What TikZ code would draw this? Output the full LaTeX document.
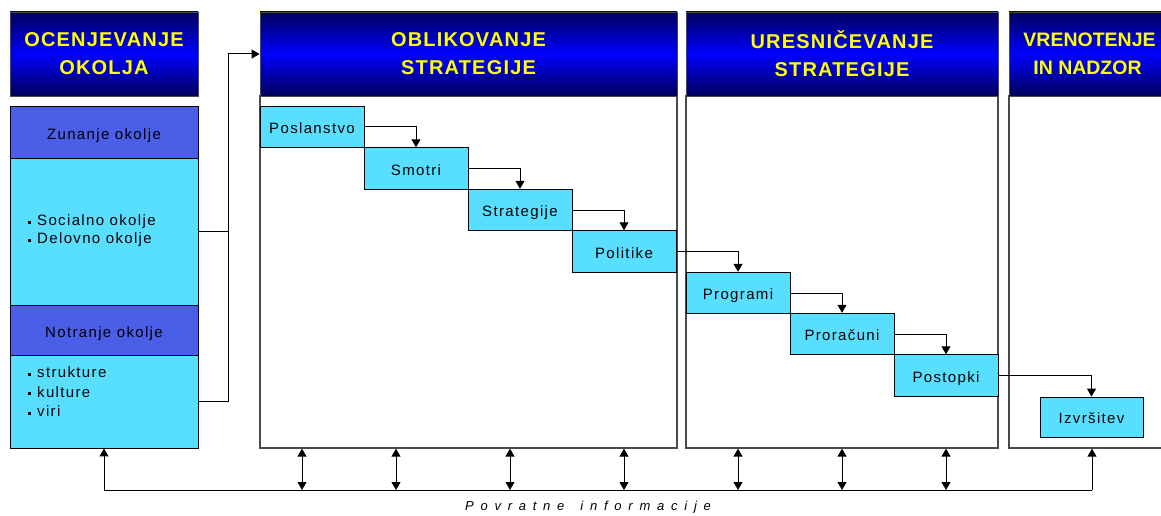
\documentclass[tikz,border=0pt]{standalone}
\usepackage{fontspec}
\setmainfont{Liberation Sans}
\newfontfamily\hdrfont[LetterSpace=6]{Liberation Sans}
\newfontfamily\hdrnarrowfont{Liberation Sans}
\newfontfamily\boxfont[LetterSpace=9]{Liberation Sans}
\newfontfamily\fbfont[LetterSpace=52]{Liberation Sans}
\usetikzlibrary{arrows.meta}
\definecolor{navy}{HTML}{00005A}
\definecolor{hdrblue}{HTML}{0000FF}
\definecolor{hdryellow}{HTML}{FFFF00}
\definecolor{royal}{HTML}{4A5EE8}
\definecolor{cyanbox}{HTML}{58DFFF}
\definecolor{framegray}{HTML}{4A4A4A}
\newcommand\sqb{\rule[0.28ex]{3pt}{3pt}\hspace{6pt}}
\begin{document}
\begin{tikzpicture}[x=1pt,y=-1pt,
  hdr/.style={draw=framegray, line width=0.8pt, top color=navy, bottom color=navy,
    middle color=hdrblue, minimum height=84pt, inner sep=0pt, align=center,
    text=hdryellow, font=\hdrfont\bfseries\fontsize{20}{28}\selectfont},
  panel/.style={draw=framegray, line width=1.3pt, fill=white, minimum height=352pt, inner sep=0pt},
  band/.style={draw=black, line width=0.9pt, fill=royal, minimum width=188pt, inner sep=0pt,
    text height=14.7pt, text depth=0pt, font=\boxfont\fontsize{15}{18}\selectfont},
  bandbody/.style={draw=black, line width=0.9pt, fill=cyanbox, minimum width=188pt, inner sep=0pt},
  stepbox/.style={draw=black, line width=0.9pt, fill=cyanbox, minimum width=104pt,
    minimum height=41.5pt, inner sep=0pt, text height=13.7pt, text depth=0pt,
    font=\boxfont\fontsize{15}{18}\selectfont},
  itemtext/.style={anchor=west, align=left, inner sep=0pt, font=\boxfont\fontsize{15}{18}\selectfont},
  link/.style={draw=black, line width=1pt},
  flow/.style={link, -{Triangle[width=9pt,length=8pt]}},
  biflow/.style={link, {Triangle[width=9pt,length=8pt]}-{Triangle[width=9pt,length=8pt]}}
]
\useasboundingbox (0,0) rectangle (1161,516);

% column panels
\node[panel, minimum width=417pt] (pan2) at (468.5,272) {};
\node[panel, minimum width=312pt] (pan3) at (842,272) {};
\node[panel, minimum width=157pt] (pan4) at (1087.5,272) {};

% column headers
\node[hdr, minimum width=188pt] (hdr1) at (104,54) {OCENJEVANJE\\OKOLJA};
\node[hdr, minimum width=417pt] (hdr2) at (468.5,54) {OBLIKOVANJE\\STRATEGIJE};
\node[hdr, minimum width=312pt] (hdr3) at (842,54) {URESNIČEVANJE\\STRATEGIJE};
\node[hdr, minimum width=157pt, font=\hdrnarrowfont\bfseries\fontsize{19.5}{28}\selectfont]
  (hdr4) at (1087.5,54) {\hspace{4pt}VRENOTENJE\\IN NADZOR};

% environment column
\node[band, minimum height=52pt] (zun) at (104,132) {Zunanje okolje};
\node[bandbody, minimum height=147pt] (zunbody) at (104,231.5) {};
\node[band, minimum height=50pt] (notr) at (104,330) {Notranje okolje};
\node[bandbody, minimum height=93pt] (notrbody) at (104,401.5) {};
\node[itemtext] (zuntxt) at (28,231) {\sqb Socialno okolje\\\sqb Delovno okolje};
\node[itemtext] (notrtxt) at (28,392) {\sqb strukture\\[1.5pt]\sqb kulture\\[1.5pt]\sqb viri};

% staircase of steps
\node[stepbox] (posl) at (312,127) {Poslanstvo};
\node[stepbox] (smot) at (416,168.5) {Smotri};
\node[stepbox] (strat) at (520,210) {Strategije};
\node[stepbox] (polit) at (624,251.5) {Politike};
\node[stepbox] (prog) at (738,293) {Programi};
\node[stepbox] (pror) at (842,334) {Proračuni};
\node[stepbox] (post) at (946,375.5) {Postopki};
\node[stepbox, minimum width=103pt, minimum height=40pt] (izv) at (1091.5,417) {Izvršitev};

% links from the environment into strategy formulation
\coordinate (lk) at (228,54);
\draw[link] (zunbody.east) -- (zunbody.east -| lk);
\draw[flow] (notrbody.east) -| (lk) -- (hdr2.west);

% step to step
\draw[flow] (posl.east) -| (smot.north);
\draw[flow] (smot.east) -| (strat.north);
\draw[flow] (strat.east) -| (polit.north);
\draw[flow] (polit.east) -| (prog.north);
\draw[flow] (prog.east) -| (pror.north);
\draw[flow] (pror.east) -| (post.north);
\draw[flow] (post.east) -| (izv.north);

% feedback bus
\coordinate (fbL) at (104,490);
\coordinate (fbR) at (1092,490);
\draw[link] (fbL) -- (fbR);
\draw[flow] (fbL) -- (notrbody.south);
\draw[flow] (fbR) -- (fbR |- pan4.south);
\foreach \bx/\pn in {302/pan2,396/pan2,510/pan2,624/pan2,738/pan3,842/pan3,946/pan3}
  \draw[biflow] (\bx,490 |- \pn.south) -- (\bx,490);
\node[inner sep=0pt, font=\fbfont\itshape\fontsize{13}{15}\selectfont] (fblabel) at (588,507)
  {Povratne\hspace{16pt}informacije};
\end{tikzpicture}
\end{document}
